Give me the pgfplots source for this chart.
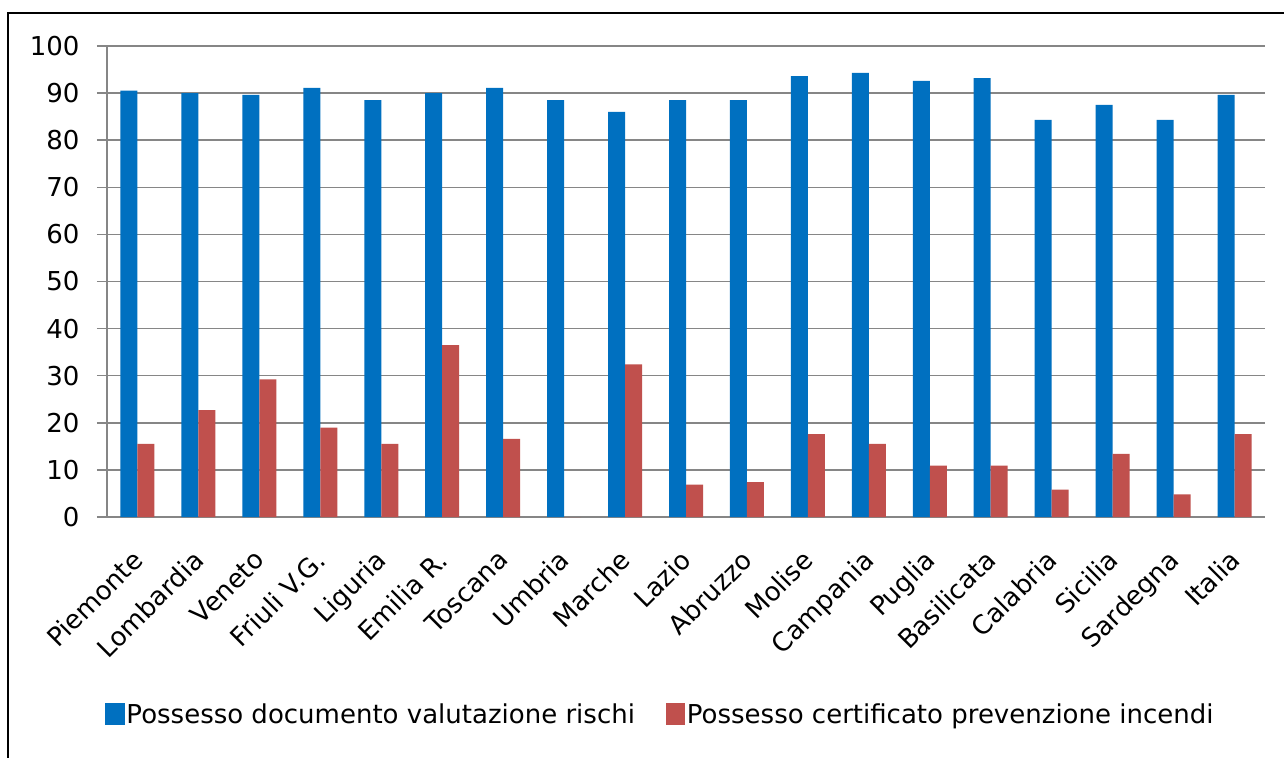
\documentclass[border=0pt]{standalone}
\usepackage{pgfplots}
\pgfplotsset{compat=1.18}
\usepackage{pgfplotstable}
\usepackage{fontspec}
\setmainfont{DejaVu Sans}
\definecolor{cblue}{HTML}{0070C0}
\definecolor{cred}{HTML}{C0504D}
\definecolor{cgrid}{HTML}{868686}
\pgfplotstableread{
x dvr cpi
0 90.5 15.5
1 90.0 22.7
2 89.6 29.2
3 91.1 19.0
4 88.5 15.5
5 90.0 36.5
6 91.1 16.6
7 88.5 0
8 86.0 32.4
9 88.5 6.9
10 88.5 7.4
11 93.6 17.6
12 94.3 15.5
13 92.6 10.9
14 93.2 10.9
15 84.3 5.8
16 87.5 13.4
17 84.3 4.8
18 89.6 17.6
}\datatable
\begin{document}
\begin{tikzpicture}[x=1bp,y=1bp]
\useasboundingbox (-107,-241) rectangle (1177,517);
\fill[white] (-107,-241) rectangle (1177,517);
\draw[black,line width=2.5bp] (-99,-260) -- (-99,504) -- (1200,504);
\begin{axis}[
  at={(0,0)}, anchor=south west, scale only axis,
  width=1158bp, height=471bp,
  xmin=-0.5, xmax=18.5, ymin=0, ymax=100,
  ybar=0pt, bar width=17bp,
  axis lines*=left,
  axis line style={cgrid, line width=1.5bp},
  ytick={0,10,...,100},
  ymajorgrids, grid style={cgrid, line width=1.5bp},
  tick align=outside,
  major tick length=10bp,
  xtick={0,...,18},
  xticklabels={Piemonte,Lombardia,Veneto,Friuli V.G.,Liguria,Emilia R.,Toscana,Umbria,Marche,Lazio,Abruzzo,Molise,Campania,Puglia,Basilicata,Calabria,Sicilia,Sardegna,Italia},
  x tick style={draw=none},
  minor xtick={-0.5,0.5,...,18.5},
  minor x tick style={cgrid, line width=1.5bp},
  minor tick length=9bp,
  y tick style={cgrid, line width=1.5bp},
  /pgf/number format/assume math mode=true,
  tick label style={font=\fontsize{26bp}{30bp}\selectfont, black},
  yticklabel style={xshift=-14bp},
  xticklabel style={xshift=-7bp, yshift=-21bp, rotate=45, anchor=north east, inner sep=0bp},
  legend style={at={(0.478,-0.418)}, anchor=center, draw=none,
    font=\fontsize{26bp}{30bp}\selectfont, legend columns=2,
    inner sep=0bp,
    /tikz/every odd column/.append style={column sep=0bp},
    /tikz/every even column/.append style={column sep=29bp}},
  legend image code/.code={\fill[#1] (0bp,-11bp) rectangle (19bp,11bp);},
]
\addplot[fill=cblue, draw=none] table[x=x,y=dvr]{\datatable};
\addplot[fill=cred, draw=none] table[x=x,y=cpi]{\datatable};
\legend{Possesso documento valutazione rischi, Possesso certificato prevenzione incendi}
\end{axis}
\end{tikzpicture}
\end{document}
